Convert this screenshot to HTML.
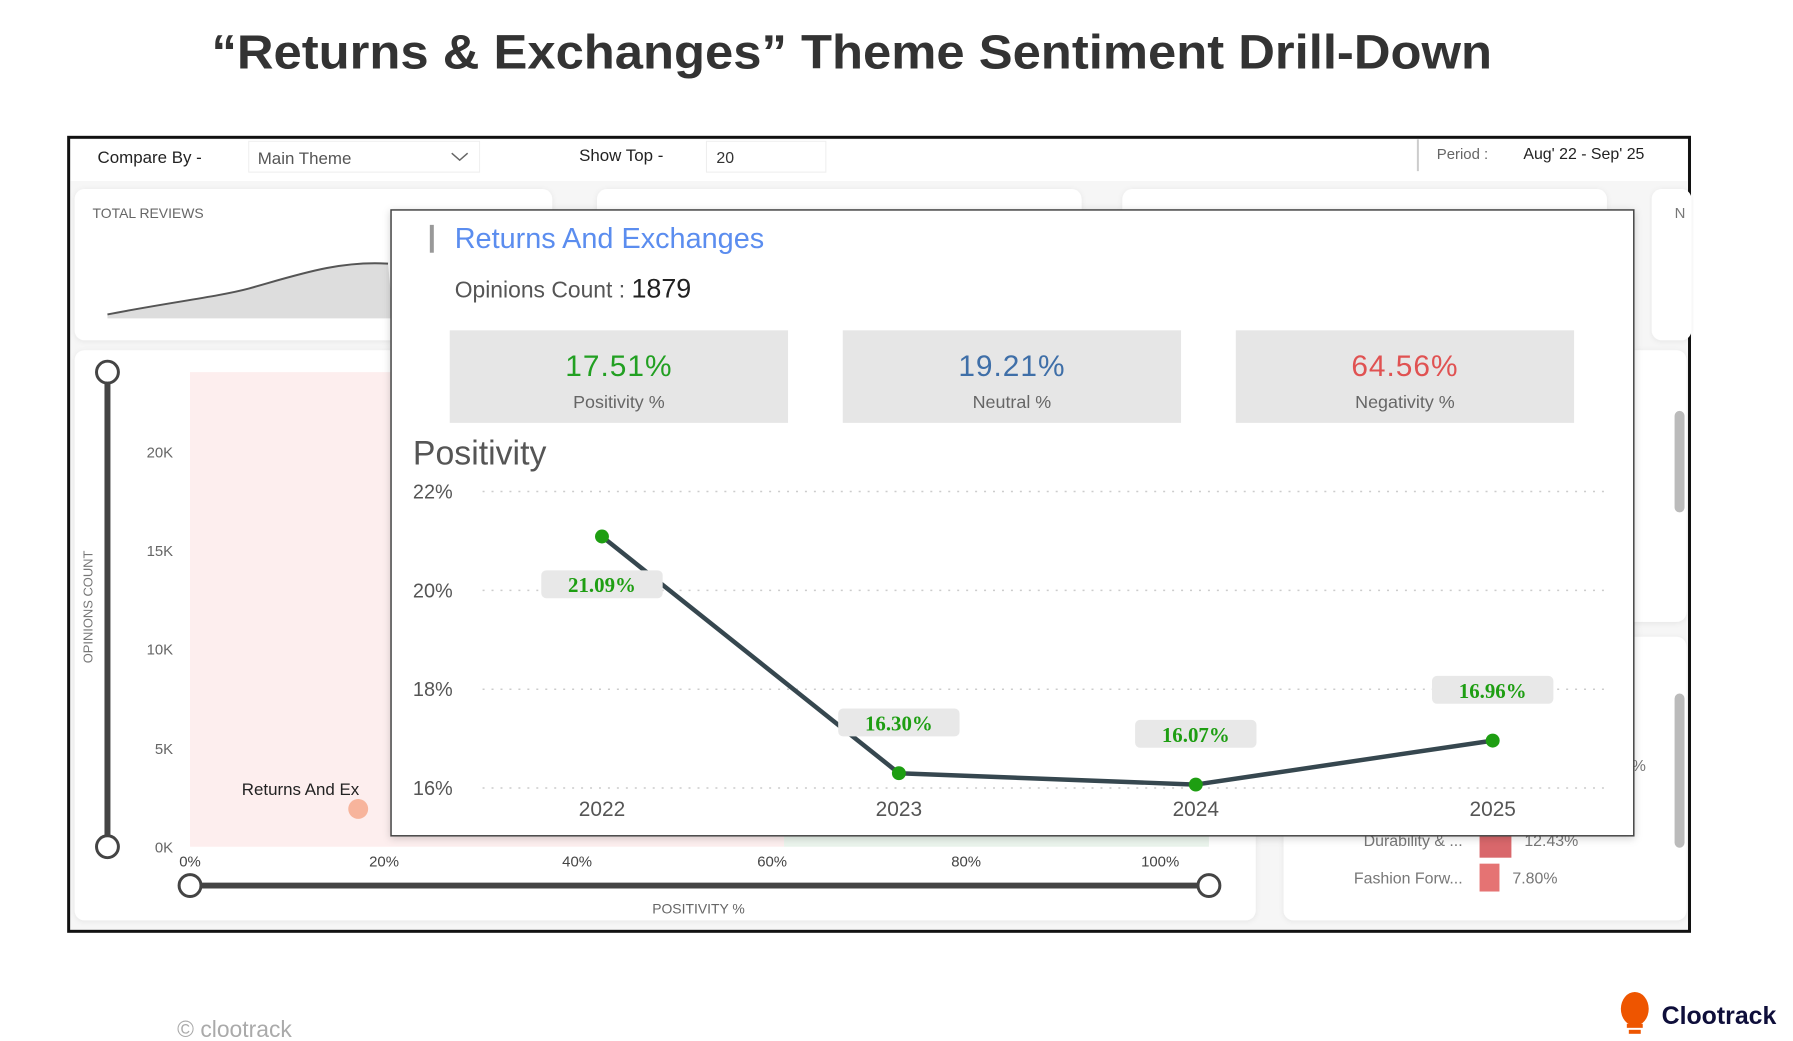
<!DOCTYPE html>
<html><head><meta charset="utf-8"><style>
html,body{margin:0;padding:0;background:#fff;}
svg{display:block;font-family:"Liberation Sans",sans-serif;}
</style></head><body>
<svg width="1793" height="1041" viewBox="0 0 1793 1041">
<defs>
<filter id="sh" x="-5%" y="-5%" width="110%" height="115%"><feDropShadow dx="0" dy="2" stdDeviation="4" flood-color="#000" flood-opacity="0.18"/></filter>
<filter id="cs" x="-5%" y="-5%" width="110%" height="115%"><feDropShadow dx="0" dy="1" stdDeviation="3" flood-color="#000" flood-opacity="0.07"/></filter>
</defs>
<g transform="scale(0.995)">
<text x="856" y="69" text-anchor="middle" font-size="48" font-weight="bold" fill="#333" textLength="1287" lengthAdjust="spacingAndGlyphs">“Returns &amp; Exchanges” Theme Sentiment Drill-Down</text>

<g>
<rect x="69" y="138" width="1629" height="798" fill="#f6f6f6" stroke="#111" stroke-width="3"/>
<rect x="71" y="140" width="1625" height="42" fill="#fff"/>
<text x="98" y="164" font-size="17" fill="#222">Compare By -</text>
<rect x="250" y="142" width="232" height="31" fill="#fff" stroke="#eee"/>
<text x="259" y="165" font-size="17" fill="#555">Main Theme</text>
<path d="M454 154 l8 7 l8 -7" fill="none" stroke="#666" stroke-width="1.5"/>
<text x="582" y="162" font-size="17" fill="#222">Show Top -</text>
<rect x="710" y="142" width="120" height="31" fill="#fff" stroke="#eee"/>
<text x="720" y="164" font-size="16" fill="#333">20</text>
<line x1="1425" y1="140" x2="1425" y2="172" stroke="#ccc" stroke-width="2"/>
<text x="1444" y="160" font-size="15" fill="#666">Period :</text>
<text x="1531" y="160" font-size="16" fill="#222">Aug' 22 - Sep' 25</text>

<rect x="75" y="190" width="480" height="152" rx="10" fill="#fff" filter="url(#cs)"/>
<rect x="600" y="190" width="487" height="152" rx="10" fill="#fff" filter="url(#cs)"/>
<rect x="1128" y="190" width="487" height="152" rx="10" fill="#fff" filter="url(#cs)"/>
<rect x="1660" y="190" width="40" height="152" rx="10" fill="#fff" filter="url(#cs)"/>
<text x="1683" y="219" font-size="15" fill="#777">N</text>
<text x="93" y="219" font-size="14" fill="#666">TOTAL REVIEWS</text>
<path d="M108 316 C170 304 220 298 250 290 C300 276 340 262 390 265 L395 320 L108 320 Z" fill="#ddd" stroke="none"/>
<path d="M108 316 C170 304 220 298 250 290 C300 276 340 262 390 265" fill="none" stroke="#555" stroke-width="2"/>

<rect x="75" y="352" width="1187" height="573" rx="10" fill="#fff" filter="url(#cs)"/>
<rect x="1290" y="352" width="405" height="273" rx="10" fill="#fff" filter="url(#cs)"/>
<rect x="1290" y="640" width="405" height="285" rx="10" fill="#fff" filter="url(#cs)"/>
<rect x="191" y="374" width="597" height="477" fill="#fdeeee"/>
<rect x="788" y="374" width="427" height="477" fill="#eaf4ec"/>
<line x1="108" y1="374" x2="108" y2="851" stroke="#444" stroke-width="6"/>
<circle cx="108" cy="374" r="11" fill="#fff" stroke="#444" stroke-width="3"/>
<circle cx="108" cy="851" r="11" fill="#fff" stroke="#444" stroke-width="3"/>
<g font-size="15" fill="#666" text-anchor="end">
<text x="174" y="460">20K</text><text x="174" y="559">15K</text><text x="174" y="658">10K</text><text x="174" y="758">5K</text><text x="174" y="857">0K</text>
</g>
<text transform="translate(93,610) rotate(-90)" text-anchor="middle" font-size="13" fill="#777">OPINIONS COUNT</text>
<g font-size="15" fill="#444" text-anchor="middle">
<text x="191" y="871">0%</text><text x="386" y="871">20%</text><text x="580" y="871">40%</text><text x="776" y="871">60%</text><text x="971" y="871">80%</text><text x="1166" y="871">100%</text>
</g>
<line x1="191" y1="890" x2="1215" y2="890" stroke="#444" stroke-width="6"/>
<circle cx="191" cy="890" r="11" fill="#fff" stroke="#444" stroke-width="3"/>
<circle cx="1215" cy="890" r="11" fill="#fff" stroke="#444" stroke-width="3"/>
<text x="702" y="918" text-anchor="middle" font-size="14" fill="#666">POSITIVITY %</text>
<text x="243" y="799" font-size="17" fill="#222">Returns And Ex</text>
<circle cx="360" cy="813" r="10" fill="#f7b49c"/>
<text x="1470" y="850" text-anchor="end" font-size="16" fill="#777">Durability &amp; ...</text>
<rect x="1487" y="834" width="32" height="28" fill="#d9676b"/>
<text x="1532" y="850" font-size="16" fill="#777">12.43%</text>
<text x="1470" y="888" text-anchor="end" font-size="16" fill="#777">Fashion Forw...</text>
<rect x="1487" y="868" width="20" height="28" fill="#e57373"/>
<text x="1520" y="888" font-size="16" fill="#777">7.80%</text>
<text x="1640" y="775" font-size="16" fill="#777">%</text>
<rect x="1683" y="413" width="10" height="102" rx="5" fill="#bbb"/>
<rect x="1683" y="697" width="10" height="155" rx="5" fill="#bbb"/>
</g>

<g>
<rect x="393" y="211" width="1249" height="629" fill="#fff" stroke="#444" stroke-width="1.5" filter="url(#sh)"/>
<rect x="432" y="226" width="4" height="28" fill="#999"/>
<text x="457" y="249" font-size="29" fill="#5b8def">Returns And Exchanges</text>
<text x="457" y="299" font-size="23" fill="#555">Opinions Count : <tspan font-size="27" fill="#222">1879</tspan></text>
<rect x="452" y="332" width="340" height="93" fill="#e6e6e6"/>
<text x="622" y="378" text-anchor="middle" font-size="30" fill="#22a022" letter-spacing="1">17.51%</text>
<text x="622" y="410" text-anchor="middle" font-size="18" fill="#666">Positivity %</text>
<rect x="847" y="332" width="340" height="93" fill="#e6e6e6"/>
<text x="1017" y="378" text-anchor="middle" font-size="30" fill="#3f6fa8" letter-spacing="1">19.21%</text>
<text x="1017" y="410" text-anchor="middle" font-size="18" fill="#666">Neutral %</text>
<rect x="1242" y="332" width="340" height="93" fill="#e6e6e6"/>
<text x="1412" y="378" text-anchor="middle" font-size="30" fill="#e05252" letter-spacing="1">64.56%</text>
<text x="1412" y="410" text-anchor="middle" font-size="18" fill="#666">Negativity %</text>
<text x="415" y="467" font-size="34" fill="#555">Positivity</text>
<g id="chart"></g>
</g>

<text x="178" y="1042" font-size="23" fill="#aaa">© clootrack</text>
<g>
<ellipse cx="1643" cy="1014" rx="14" ry="17" fill="#ee5500"/>
<rect x="1635" y="1029" width="16" height="4" fill="#ee5500"/>
<rect x="1637" y="1035" width="12" height="4" fill="#ee5500"/>
<text x="1670" y="1029" font-size="25" font-weight="bold" fill="#0e0e3a">Clootrack</text>
</g>
</g>
</svg>
<script>
const years = ["2022","2023","2024","2025"];
const positivity = [21.09, 16.30, 16.07, 16.96];
const yTicks = [16, 18, 20, 22];
const labelBelow = [true, false, false, false];

const NS = "http://www.w3.org/2000/svg";
const g = document.getElementById("chart");
const x0 = 605, xStep = 298.4, yMin = 16, yMax = 22, yTop = 494, yBot = 792;
const xS = i => x0 + i * xStep;
const yS = v => yBot - (v - yMin) / (yMax - yMin) * (yBot - yTop);
function mk(tag, attrs, parent) {
  const e = document.createElementNS(NS, tag);
  for (const k in attrs) e.setAttribute(k, attrs[k]);
  (parent || g).appendChild(e);
  return e;
}
yTicks.forEach(t => {
  const l = mk("line", {x1: 485, x2: 1612, y1: yS(t), y2: yS(t), stroke: "#ccc", "stroke-width": 1.5, "stroke-dasharray": "2 7"});
  
  
  const tx = mk("text", {x: 415, y: yS(t) + 7, "font-size": 20, fill: "#555"});
  tx.textContent = t + "%";
  
  
});
years.forEach((y, i) => {
  const tx = mk("text", {x: xS(i), y: 820, "text-anchor": "middle", "font-size": 21, fill: "#555"});
  tx.textContent = y;
  
  
});
const line = mk("polyline", {points: positivity.map((v, i) => xS(i) + "," + yS(v)).join(" "), fill: "none", stroke: "#36474f", "stroke-width": 4.5, "stroke-linejoin": "round"});


positivity.forEach((v, i) => {
  const c = mk("circle", {cx: xS(i), cy: yS(v), r: 7, fill: "#1e9e12"});
  
  
  const ly = yS(v) + (labelBelow[i] ? 49 : -50);
  const r = mk("rect", {x: xS(i) - 61, y: ly - 15, width: 122, height: 28, rx: 5, fill: "#e8e8e8"});
  
  
  const t = mk("text", {x: xS(i), y: ly + 7, "text-anchor": "middle", "font-size": 21, "font-weight": "bold", fill: "#1e9e12", "font-family": "Liberation Serif, serif"});
  t.textContent = v.toFixed(2) + "%";
  
  
});
</script>
</body></html>
